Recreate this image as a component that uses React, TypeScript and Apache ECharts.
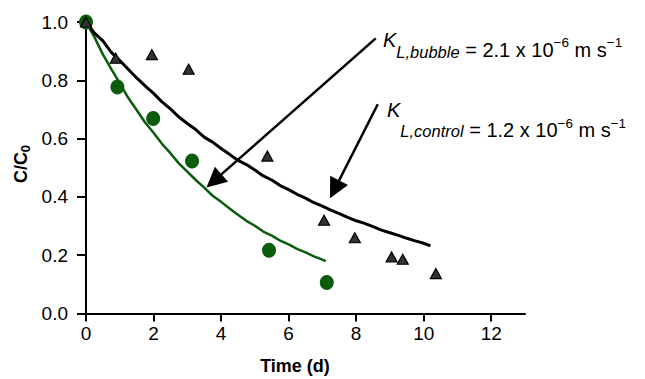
import React, { useEffect, useRef } from "react";
import * as echarts from "echarts";

// ---- data ----
const controlCurveTime = [0, 0.25, 0.5, 0.75, 1.0, 1.25, 1.5, 1.75, 2.0, 2.25, 2.5, 2.75, 3.0, 3.25, 3.5, 3.75, 4.0, 4.25, 4.5, 4.75, 5.0, 5.25, 5.5, 5.75, 6.0, 6.25, 6.5, 6.75, 7.0, 7.25, 7.5, 7.75, 8.0, 8.25, 8.5, 8.75, 9.0, 9.25, 9.5, 9.75, 10.0, 10.2];
const controlCurveValue = [1.0, 0.962, 0.935, 0.896, 0.868, 0.838, 0.808, 0.781, 0.755, 0.726, 0.702, 0.674, 0.652, 0.631, 0.605, 0.588, 0.566, 0.546, 0.525, 0.511, 0.492, 0.472, 0.458, 0.439, 0.425, 0.409, 0.396, 0.380, 0.368, 0.355, 0.343, 0.330, 0.318, 0.309, 0.298, 0.286, 0.277, 0.268, 0.258, 0.249, 0.241, 0.232];

const bubbleCurveTime = [0, 0.25, 0.5, 0.75, 1.0, 1.25, 1.5, 1.75, 2.0, 2.25, 2.5, 2.75, 3.0, 3.25, 3.5, 3.75, 4.0, 4.25, 4.5, 4.75, 5.0, 5.25, 5.5, 5.75, 6.0, 6.25, 6.5, 6.75, 7.0, 7.1];
const bubbleCurveValue = [1.0, 0.948, 0.889, 0.838, 0.790, 0.740, 0.698, 0.655, 0.620, 0.582, 0.550, 0.515, 0.487, 0.458, 0.432, 0.404, 0.383, 0.360, 0.339, 0.318, 0.301, 0.281, 0.267, 0.250, 0.237, 0.222, 0.210, 0.196, 0.185, 0.180];

const controlPointTime = [0, 0.88, 1.95, 3.04, 5.37, 7.05, 7.96, 9.05, 9.38, 10.36];
const controlPointValue = [1.0, 0.876, 0.888, 0.838, 0.54, 0.32, 0.26, 0.194, 0.186, 0.137];

const bubblePointTime = [0, 0.93, 1.99, 3.14, 5.42, 7.13];
const bubblePointValue = [1.0, 0.777, 0.669, 0.523, 0.217, 0.106];

const xTicks = [0, 2, 4, 6, 8, 10, 12];
const yTicks = [0, 0.2, 0.4, 0.6, 0.8, 1.0];

// annotation arrows: [start, arrowhead centre] in data coordinates
const bubbleArrow = [[8.58, 0.944], [3.79, 0.455]];
const controlArrow = [[8.64, 0.718], [7.36, 0.426]];

const GREEN = "#0b5d0b";
const FONT = "'Liberation Sans', Arial, Helvetica, sans-serif";

const zip = (a: number[], b: number[]) => a.map((v, i) => [v, b[i]]);

// token helper: height == lineHeight so verticalAlign places the token centre exactly
const tok = (fontSize: number, h: number, va: string, italic = false, bold = false) => ({
  fontSize,
  fontFamily: FONT,
  fontStyle: italic ? "italic" : "normal",
  fontWeight: bold ? "bold" : "normal",
  lineHeight: h,
  height: h,
  verticalAlign: va,
  fill: "#000",
  color: "#000",
});

export default function App() {
  const ref = useRef<HTMLDivElement>(null);
  useEffect(() => {
    if (!ref.current) return;
    const chart = echarts.init(ref.current, undefined, { renderer: "svg" });
    const arrowLine = (pts: number[][]) => [
      { coord: pts[0], symbol: "none" },
      { coord: pts[1], symbol: "triangle", symbolSize: 20 },
    ];
    const option: any = {
      animation: false,
      backgroundColor: "#ffffff",
      grid: { left: 86, top: 22, width: 439, height: 291.5, containLabel: false, outerBoundsMode: "none" },
      xAxis: {
        type: "value",
        min: 0,
        max: 13,
        interval: 2,
        axisLine: { show: true, onZero: false, lineStyle: { color: "#000", width: 2 } },
        axisTick: { show: true, length: 8, lineStyle: { color: "#000", width: 2 }, customValues: xTicks },
        axisLabel: { color: "#000", fontSize: 19, fontFamily: FONT, margin: 10, customValues: xTicks },
        splitLine: { show: false },
      },
      yAxis: {
        type: "value",
        min: 0,
        max: 1,
        interval: 0.2,
        axisLine: { show: true, onZero: false, lineStyle: { color: "#000", width: 2 } },
        axisTick: { show: true, length: 9, lineStyle: { color: "#000", width: 2 }, customValues: yTicks },
        axisLabel: {
          color: "#000",
          fontSize: 19,
          fontFamily: FONT,
          margin: 18,
          customValues: yTicks,
          formatter: (v: number) => v.toFixed(1),
        },
        splitLine: { show: false },
      },
      series: [
        {
          type: "line",
          data: zip(bubbleCurveTime, bubbleCurveValue),
          showSymbol: false,
          lineStyle: { color: GREEN, width: 2.5 },
          z: 2,
        },
        {
          type: "line",
          data: zip(controlCurveTime, controlCurveValue),
          showSymbol: false,
          lineStyle: { color: "#000", width: 3 },
          z: 3,
        },
        {
          type: "scatter",
          data: zip(bubblePointTime, bubblePointValue),
          symbol: "circle",
          symbolSize: [14, 15],
          itemStyle: { color: GREEN, opacity: 1 },
          z: 4,
        },
        {
          type: "scatter",
          data: zip(controlPointTime, controlPointValue),
          symbol: "triangle",
          symbolSize: [11, 10],
          itemStyle: { color: "#333", borderColor: "#000", borderWidth: 1.2, opacity: 1 },
          z: 5,
        },
        {
          type: "line",
          data: [],
          z: 6,
          markLine: {
            silent: true,
            symbol: ["none", "triangle"],
            symbolSize: 20,
            label: { show: false },
            lineStyle: { color: "#000", width: 2.5, type: "solid" },
            emphasis: { disabled: true },
            data: [arrowLine(bubbleArrow), arrowLine(controlArrow)],
          },
        },
      ],
      graphic: [
        {
          type: "text",
          x: 383,
          y: 35.4,
          style: {
            text: "{k|K}{s|L,bubble}{m| = 2.1 x 10}{p|−6}{m| m s}{p|−1}",
            fill: "#000",
            rich: {
              m: tok(20, 30, "middle"),
              k: tok(20, 8.8, "top", true),
              p: tok(13.5, 13.2, "top"),
              s: tok(16.5, 27.6, "bottom", true),
            },
          },
        },
        {
          type: "text",
          x: 387,
          y: 107,
          style: {
            text: "{k|K}{s|L,control}{m| = 1.2 x 10}{p|−6}{m| m s}{p|−1}",
            fill: "#000",
            rich: {
              m: tok(20, 46, "middle"),
              k: tok(20, 6, "top", true),
              p: tok(13.5, 32.4, "top"),
              s: tok(16.5, 43.6, "bottom", true),
            },
          },
        },
        {
          type: "text",
          x: 295,
          y: 366,
          style: {
            text: "Time (d)",
            fill: "#000",
            font: `bold 18px ${FONT}`,
            align: "center",
            verticalAlign: "middle",
          },
        },
        {
          type: "text",
          x: 21,
          y: 164,
          rotation: Math.PI / 2,
          style: {
            text: "{a|C/C}{b|0}",
            fill: "#000",
            align: "center",
            verticalAlign: "middle",
            rich: {
              a: tok(18, 24, "middle", false, true),
              b: tok(13, 14.6, "bottom", false, true),
            },
          },
        },
      ],
    };
    chart.setOption(option);
    return () => chart.dispose();
  }, []);
  return (
    <div
      ref={ref}
      style={{ position: "absolute", left: 0, top: 0, width: 645, height: 379, background: "#fff" }}
    />
  );
}
